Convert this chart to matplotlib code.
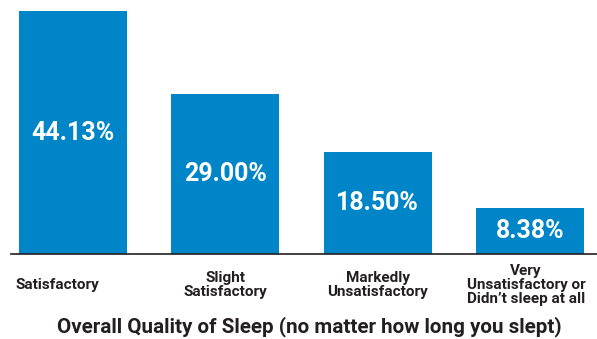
import matplotlib.pyplot as plt
import matplotlib.transforms as mtransforms

categories = ["Satisfactory", "Slight\nSatisfactory", "Markedly\nUnsatisfactory",
              "Very\nUnsatisfactory or\nDidn\u2019t sleep at all"]
percent = [44.13, 29.00, 18.50, 8.38]
xlabel = "Overall Quality of Sleep (no matter how long you slept)"

blue = "#0085C8"
dark = "#231F20"

plt.rcParams['font.family'] = ['Roboto', 'DejaVu Sans']

fig = plt.figure(figsize=(5.97, 3.39), dpi=100)
ax = fig.add_axes([11 / 597, 85 / 339, 586 / 597, 243 / 339])

xs = range(len(categories))
bars = ax.bar(xs, percent, width=0.71, color=blue)

for b, v in zip(bars, percent):
    ax.text(b.get_x() + b.get_width() / 2, v / 2, f"{v:.2f}%",
            ha="center", va="center", color="white",
            fontsize=18, fontweight="bold")

ax.set_xlim(-0.407, 3.44)
ax.set_ylim(0, max(percent))
ax.set_xticks(list(xs))
ax.set_xticklabels(categories, fontsize=11, fontweight="bold", color=dark,
                   linespacing=1.0, va="center")
ax.tick_params(axis="x", length=0, pad=22)
ax.set_yticks([])
for s in ["top", "left", "right"]:
    ax.spines[s].set_visible(False)
ax.spines["bottom"].set_color(dark)
ax.spines["bottom"].set_linewidth(1.2)

# first label sits a bit to the left of its bar
labs = ax.get_xticklabels()
labs[0].set_transform(labs[0].get_transform() + mtransforms.ScaledTranslation(-0.155, 0, fig.dpi_scale_trans))
labs[3].set_transform(labs[3].get_transform() + mtransforms.ScaledTranslation(-0.04, 0, fig.dpi_scale_trans))

fig.text(0.5 * (55 + 563) / 597, 1 - 327 / 339, xlabel, ha="center", va="center",
         fontsize=14.9, fontweight="bold", color=dark)

fig.savefig("out.png", dpi=100)
